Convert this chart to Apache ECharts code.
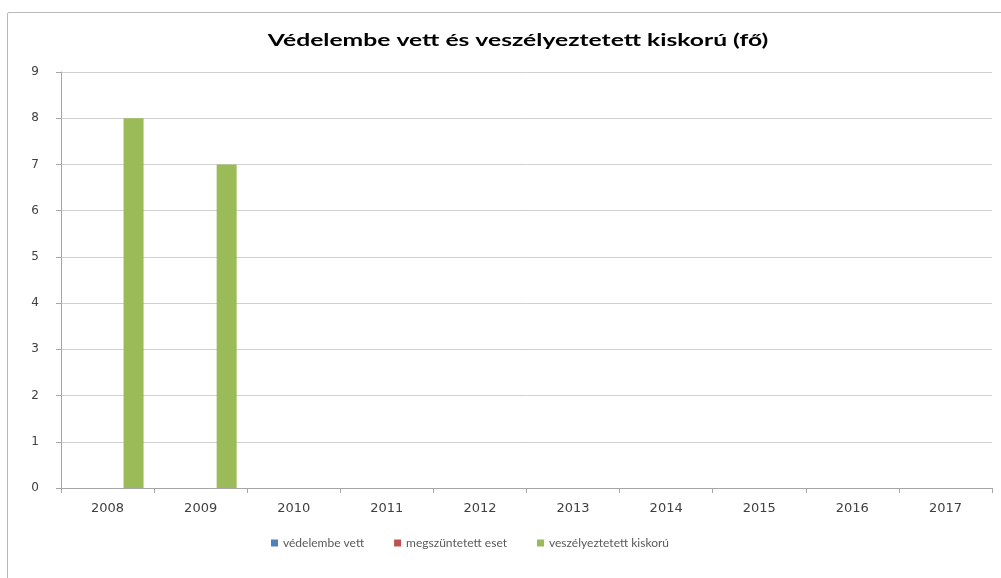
<!DOCTYPE html>
<html lang="hu">
  <head>
    <meta charset="utf-8">
    <script src="https://cdn.jsdelivr.net/npm/echarts@6/dist/echarts.min.js"></script>
    <style>
      body { margin: 0; background: #fff; }
      #keret { position: absolute; left: 7px; top: 12px; width: 1000px; height: 570px; border: 1px solid #b8b8b8; border-radius: 2px; }
      #chart { position: absolute; left: 0; top: 0; width: 1001px; height: 578px; }
    </style>
  </head>
  <body>
    <div id="keret"></div>
    <div id="chart"></div>
    <script>
      // Adatok
      const evek = ['2008', '2009', '2010', '2011', '2012', '2013', '2014', '2015', '2016', '2017'];
      const vedelembeVett = [0, 0, 0, 0, 0, 0, 0, 0, 0, 0];
      const megszuntetettEset = [0, 0, 0, 0, 0, 0, 0, 0, 0, 0];
      const veszelyeztetettKiskoru = [8, 7, 0, 0, 0, 0, 0, 0, 0, 0];
      const sorozatNevek = ['védelembe vett', 'megszüntetett eset', 'veszélyeztetett kiskorú'];
      const cim = 'Védelembe vett és veszélyeztetett kiskorú (fő)';

      var myChart = echarts.init(document.getElementById('chart'));

      var option = {
        animation: false,
        // a cím kissé szélesebbre nyújtva, mint az eredetin
        graphic: [{
          type: 'text',
          x: 518,
          y: 41,
          scaleX: 1.45,
          style: {
            text: cim,
            font: 'bold 17px Lato',
            fill: '#000',
            align: 'center',
            verticalAlign: 'middle'
          }
        }],
        legend: {
          bottom: 24,
          left: 266,
          itemWidth: 7,
          itemHeight: 7,
          itemGap: 30,
          icon: 'rect',
          textStyle: { fontFamily: 'Lato', fontSize: 12, color: '#595959' },
          data: sorozatNevek
        },
        grid: { left: 61, right: 9, top: 72, bottom: 90 },
        xAxis: {
          type: 'category',
          data: evek,
          axisLine: { lineStyle: { color: '#a6a6a6' } },
          axisTick: { show: true, length: 5, lineStyle: { color: '#a6a6a6' } },
          axisLabel: { fontFamily: 'DejaVu Sans', fontSize: 13, color: '#404040', margin: 14 }
        },
        yAxis: {
          type: 'value',
          min: 0,
          max: 9,
          interval: 1,
          axisLine: { show: true, lineStyle: { color: '#a6a6a6' } },
          axisTick: { show: true, length: 5, lineStyle: { color: '#a6a6a6' } },
          splitLine: { lineStyle: { color: '#d0d0d0' } },
          axisLabel: { fontFamily: 'DejaVu Sans', fontSize: 12, color: '#404040', margin: 22 }
        },
        series: [
          { name: sorozatNevek[0], type: 'bar', data: vedelembeVett, barWidth: 20, barGap: '30%', itemStyle: { color: '#4f81bd' } },
          { name: sorozatNevek[1], type: 'bar', data: megszuntetettEset, barWidth: 20, barGap: '30%', itemStyle: { color: '#c0504d' } },
          { name: sorozatNevek[2], type: 'bar', data: veszelyeztetettKiskoru, barWidth: 20, barGap: '30%', itemStyle: { color: '#9bbb59' } }
        ]
      };
      myChart.setOption(option);
    </script>
  </body>
</html>
